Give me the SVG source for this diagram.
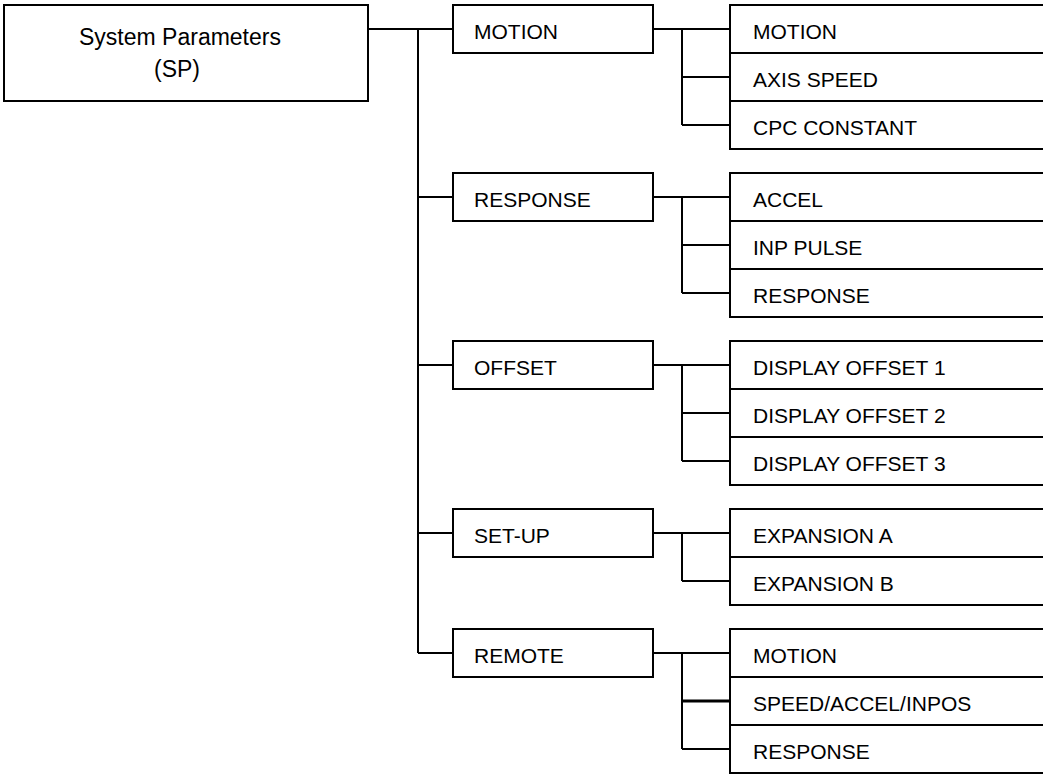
<svg xmlns="http://www.w3.org/2000/svg" width="1043" height="775" viewBox="0 0 1043 775">
<style>
.box{fill:#fff;stroke:#000;stroke-width:2}
.ln{fill:none;stroke:#000;stroke-width:2}
text{font-family:"Liberation Sans",Arial,sans-serif;font-size:21px;fill:#000}
.big{font-size:23px}
</style>
<rect width="1043" height="775" fill="#fff"/>
<g id="connectors" class="ln">
<path d="M368 29H453M418 29V653M418 197H453M418 365H453M418 533H453M418 653H453"/>
<path d="M653 29H730M682 29V125M682 77H730M682 125H730"/>
<path d="M653 197H730M682 197V293M682 245H730M682 293H730"/>
<path d="M653 365H730M682 365V461M682 413H730M682 461H730"/>
<path d="M653 533H730M682 533V581M682 581H730"/>
<path d="M653 653H730M682 653V749M682 749H730"/>
<path d="M682 701H730" stroke-width="3"/>
</g>
<g id="root"><rect class="box" x="4" y="5" width="364" height="96"/><text class="big" x="180" y="45" text-anchor="middle">System Parameters</text><text class="big" x="177" y="77" text-anchor="middle">(SP)</text></g>
<g id="motion"><rect class="box" x="453" y="5" width="200" height="48"/><text x="474" y="39">MOTION</text></g>
<g id="motion-motion"><rect class="box" x="730" y="5" width="330" height="48"/><text x="753" y="39">MOTION</text></g>
<g id="motion-axis"><rect class="box" x="730" y="53" width="330" height="48"/><text x="753" y="87">AXIS SPEED</text></g>
<g id="motion-cpc"><rect class="box" x="730" y="101" width="330" height="48"/><text x="753" y="135">CPC CONSTANT</text></g>
<g id="response"><rect class="box" x="453" y="173" width="200" height="48"/><text x="474" y="207">RESPONSE</text></g>
<g id="response-accel"><rect class="box" x="730" y="173" width="330" height="48"/><text x="753" y="207">ACCEL</text></g>
<g id="response-inp"><rect class="box" x="730" y="221" width="330" height="48"/><text x="753" y="255">INP PULSE</text></g>
<g id="response-response"><rect class="box" x="730" y="269" width="330" height="48"/><text x="753" y="303">RESPONSE</text></g>
<g id="offset"><rect class="box" x="453" y="341" width="200" height="48"/><text x="474" y="375">OFFSET</text></g>
<g id="offset-1"><rect class="box" x="730" y="341" width="330" height="48"/><text x="753" y="375">DISPLAY OFFSET 1</text></g>
<g id="offset-2"><rect class="box" x="730" y="389" width="330" height="48"/><text x="753" y="423">DISPLAY OFFSET 2</text></g>
<g id="offset-3"><rect class="box" x="730" y="437" width="330" height="48"/><text x="753" y="471">DISPLAY OFFSET 3</text></g>
<g id="setup"><rect class="box" x="453" y="509" width="200" height="48"/><text x="474" y="543">SET-UP</text></g>
<g id="setup-a"><rect class="box" x="730" y="509" width="330" height="48"/><text x="753" y="543">EXPANSION A</text></g>
<g id="setup-b"><rect class="box" x="730" y="557" width="330" height="48"/><text x="753" y="591">EXPANSION B</text></g>
<g id="remote"><rect class="box" x="453" y="629" width="200" height="48"/><text x="474" y="663">REMOTE</text></g>
<g id="remote-motion"><rect class="box" x="730" y="629" width="330" height="48"/><text x="753" y="663">MOTION</text></g>
<g id="remote-speed"><rect class="box" x="730" y="677" width="330" height="48"/><text x="753" y="711">SPEED/ACCEL/INPOS</text></g>
<g id="remote-response"><rect class="box" x="730" y="725" width="330" height="48"/><text x="753" y="759">RESPONSE</text></g>
</svg>
